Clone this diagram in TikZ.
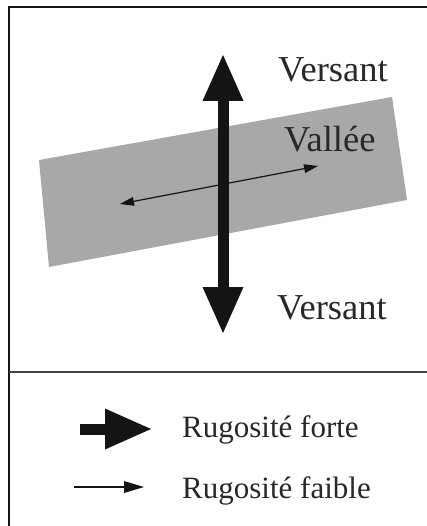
\documentclass[tikz,border=0pt]{standalone}
\usepackage{fontspec}
\setmainfont{Liberation Serif}
\usetikzlibrary{arrows.meta}
\definecolor{band}{RGB}{168,168,168}
\definecolor{ink}{RGB}{20,20,20}
\definecolor{txt}{RGB}{40,40,40}
\tikzset{
  lab/.style={anchor=base west, inner sep=0pt, text=txt, font=\fontsize{36.5}{42}\selectfont},
  leg/.style={anchor=base west, inner sep=0pt, text=txt, font=\fontsize{31}{36}\selectfont},
  strong/.style={draw=ink, line width=11pt, -{Triangle[width=41pt,length=46pt,line width=0pt]}},
  strongboth/.style={draw=ink, line width=11pt, {Triangle[width=41pt,length=46pt,line width=0pt]}-{Triangle[width=41pt,length=46pt,line width=0pt]}},
  weak/.style={draw=ink, line width=1.4pt, -{Triangle[width=12pt,length=20pt,line width=0pt]}},
  weakboth/.style={draw=ink, line width=1.2pt, {Triangle[width=9pt,length=14pt,line width=0pt]}-{Triangle[width=9pt,length=14pt,line width=0pt]}},
}
\begin{document}
\begin{tikzpicture}[x=1pt,y=-1pt]
\useasboundingbox (0,0) rectangle (427,526);
\fill[white] (0,0) rectangle (427,526);
% frame
\draw[line width=2.5pt, draw=ink] (9,540) -- (9,7) -- (440,7);
\draw[line width=2pt, draw=ink!80] (9,372) -- (440,372);
% valley band
\fill[band] (39,160) -- (392,97) -- (407,200) -- (49,267) -- cycle;
% labels
\node[lab] (vtop) at (278,82) {Versant};
\node[lab] (vall) at (284,152) {Vallée};
\node[lab] (vbot) at (277,319) {Versant};
% arrows
\coordinate (ut) at (223,55);
\coordinate (ub) at (223,333);
\draw[strongboth] (ut) -- (ub);
\coordinate (wl) at (120,204);
\coordinate (wr) at (318,166);
\draw[weakboth] (wl) -- (wr);
% legend
\coordinate (l1a) at (80,429);
\coordinate (l1b) at (151,429);
\draw[strong] (l1a) -- (l1b);
\node[leg] (t1) at (182,437) {Rugosité forte};
\coordinate (l2a) at (74,487);
\coordinate (l2b) at (144,487);
\draw[weak] (l2a) -- (l2b);
\node[leg] (t2) at (182,498) {Rugosité faible};
\end{tikzpicture}
\end{document}
